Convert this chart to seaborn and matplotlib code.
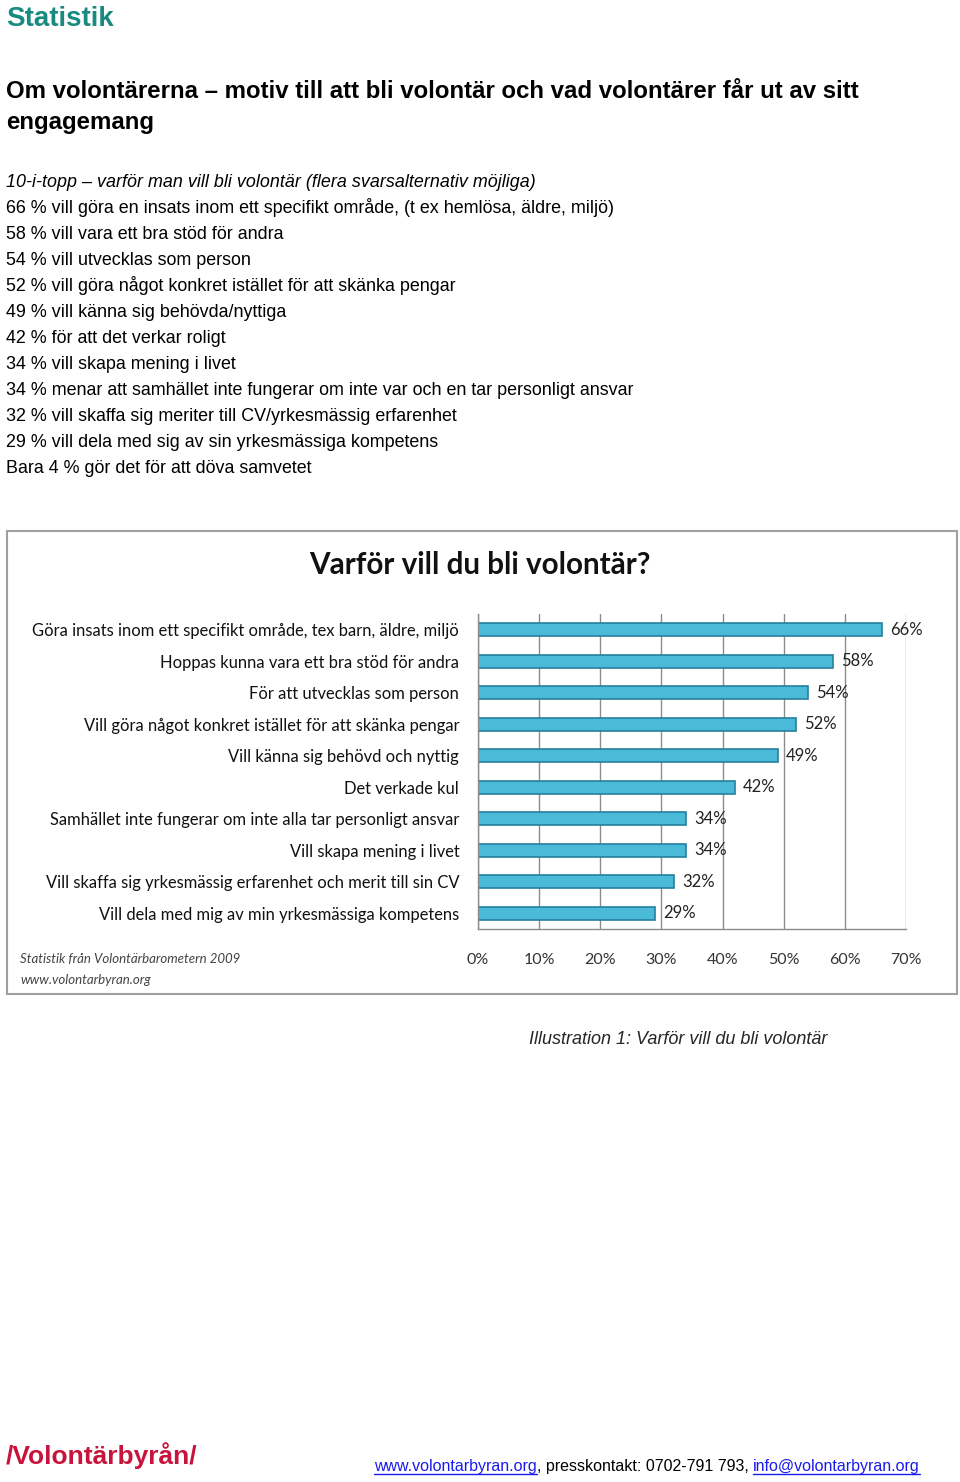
import pandas as pd
import matplotlib.pyplot as plt
import seaborn as sns
from matplotlib.patches import Rectangle
from matplotlib.lines import Line2D

# Data
intro_lines = [
    "66 % vill göra en insats inom ett specifikt område, (t ex hemlösa, äldre, miljö)",
    "58 % vill vara ett bra stöd för andra",
    "54 % vill utvecklas som person",
    "52 % vill göra något konkret istället för att skänka pengar",
    "49 % vill känna sig behövda/nyttiga",
    "42 % för att det verkar roligt",
    "34 % vill skapa mening i livet",
    "34 % menar att samhället inte fungerar om inte var och en tar personligt ansvar",
    "32 % vill skaffa sig meriter till CV/yrkesmässig erfarenhet",
    "29 % vill dela med sig av sin yrkesmässiga kompetens",
    "Bara 4 % gör det för att döva samvetet",
]
reasons = [
    "Göra insats inom ett specifikt område, tex barn, äldre, miljö",
    "Hoppas kunna vara ett bra stöd för andra",
    "För att utvecklas som person",
    "Vill göra något konkret istället för att skänka pengar",
    "Vill känna sig behövd och nyttig",
    "Det verkade kul",
    "Samhället inte fungerar om inte alla tar personligt ansvar",
    "Vill skapa mening i livet",
    "Vill skaffa sig yrkesmässig erfarenhet och merit till sin CV",
    "Vill dela med mig av min yrkesmässiga kompetens",
]
percent = [66, 58, 54, 52, 49, 42, 34, 34, 32, 29]
xticks = [0, 10, 20, 30, 40, 50, 60, 70]

df = pd.DataFrame({"reason": reasons, "percent": percent})

W, H = 960, 1482
fig = plt.figure(figsize=(W / 100, H / 100), dpi=100)


def fx(x):
    return x / W


def fy(y):
    return 1 - y / H


body = ["Liberation Sans", "DejaVu Sans"]
chartfont = ["Lato", "DejaVu Sans"]

# Page header (baseline positions)
fig.text(fx(6), fy(26), "Statistik", fontsize=20, fontweight="bold",
         color="#198a7f", family=body, va="baseline")
fig.text(fx(6), fy(98), "Om volontärerna – motiv till att bli volontär och vad volontärer får ut av sitt",
         fontsize=17.3, fontweight="bold", family=body, va="baseline")
fig.text(fx(6), fy(129), "engagemang", fontsize=17.3, fontweight="bold", family=body, va="baseline")

fig.text(fx(6), fy(187), "10-i-topp – varför man vill bli volontär (flera svarsalternativ möjliga)",
         fontsize=12.9, style="italic", family=body, va="baseline")
for i, line in enumerate(intro_lines):
    fig.text(fx(6), fy(213 + 26 * i), line, fontsize=12.9, family=body, va="baseline")

# Chart frame
fig.patches.append(Rectangle((fx(7), fy(994)), fx(957) - fx(7), fy(531) - fy(994),
                             transform=fig.transFigure, fill=False,
                             edgecolor="#a0a0a0", linewidth=1.5))
fig.text(fx(480), fy(565), "Varför vill du bli volontär?", fontsize=21.3,
         fontweight="bold", family=chartfont, ha="center", va="center", color="#111111")

# Bar chart
sns.set_style("white")
ax = fig.add_axes([fx(478), fy(929), fx(906) - fx(478), fy(614) - fy(929)])
sns.barplot(data=df, y="reason", x="percent", orient="h", color="#4bbad9",
            edgecolor="#24809c", linewidth=1.2, width=0.42, ax=ax, saturation=1)
ax.set_xlim(0, 70)
ax.set_xlabel("")
ax.set_ylabel("")
ax.set_xticks(xticks)
ax.set_xticklabels([f"{t}%" for t in xticks], family=chartfont, fontsize=11.5, color="#333333")
ax.tick_params(axis="x", length=0, pad=17)
ax.tick_params(axis="y", length=0, pad=13.5)
for lab in ax.get_yticklabels():
    lab.set_family(chartfont)
    lab.set_fontsize(11.9)
    lab.set_color("#111111")
ax.grid(axis="x", color="#8c8c8c", linewidth=1)
ax.set_axisbelow(True)
for s in ["top", "right"]:
    ax.spines[s].set_visible(False)
for s in ["left", "bottom"]:
    ax.spines[s].set_color("#8c8c8c")
    ax.spines[s].set_linewidth(1)
ax.bar_label(ax.containers[0], labels=[f"{v}%" for v in percent], padding=6,
             family=chartfont, fontsize=12, color="#222222")

fig.text(fx(20), fy(959), "Statistik från Volontärbarometern 2009", fontsize=9.5,
         style="italic", family=chartfont, color="#444444", va="center")
fig.text(fx(20), fy(980), "www.volontarbyran.org", fontsize=9.5,
         style="italic", family=chartfont, color="#444444", va="center")

# Caption
fig.text(fx(678), fy(1044), "Illustration 1: Varför vill du bli volontär", fontsize=13,
         style="italic", family=body, ha="center", va="baseline")

# Footer
narrow = ["Liberation Sans Narrow", "Liberation Sans", "DejaVu Sans"]
fig.text(fx(6), fy(1464), "/Volontärbyrån/", fontsize=19, fontweight="bold",
         color="#c8143c", family=narrow, va="baseline")

renderer = fig.canvas.get_renderer()
x = 374
parts = [("www.volontarbyran.org", "#1a1aee", True),
         (", presskontakt: 0702-791 793, ", "black", False),
         ("info@volontarbyran.org", "#1a1aee", True)]
for txt, col, link in parts:
    t = fig.text(fx(x), fy(1471), txt, fontsize=11.5, color=col, family=narrow, va="baseline")
    bb = t.get_window_extent(renderer=renderer)
    if link:
        fig.lines.append(Line2D([fx(x), fx(x + bb.width)], [fy(1474), fy(1474)],
                                transform=fig.transFigure, color=col, linewidth=1))
    x += bb.width

fig.savefig("out.png", dpi=100)
